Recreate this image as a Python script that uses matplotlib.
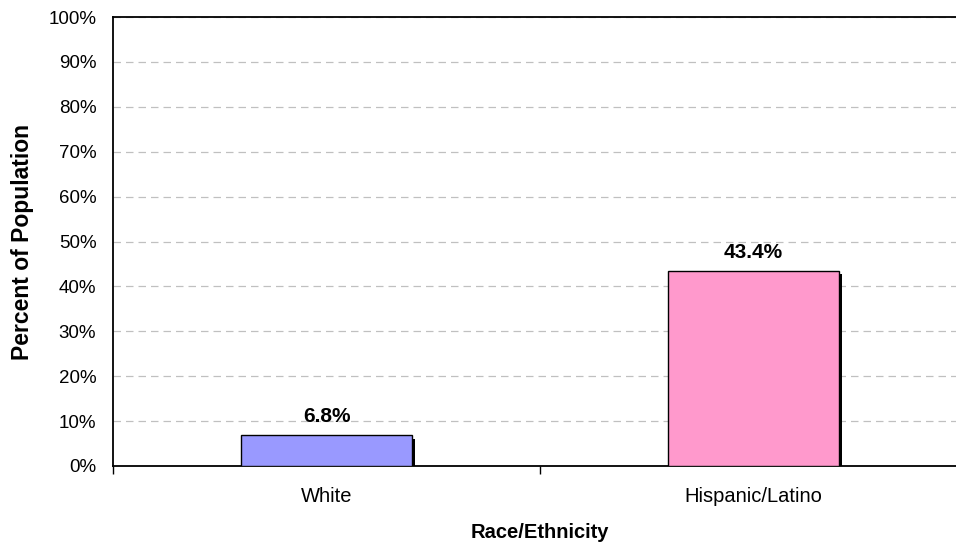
import matplotlib
matplotlib.use("Agg")
import matplotlib.pyplot as plt
import matplotlib.patheffects as pe
from matplotlib.ticker import FixedLocator, NullFormatter

plt.rcParams['font.family'] = ['Liberation Sans', 'DejaVu Sans']

categories = ["White", "Hispanic/Latino"]
values = [6.8, 43.4]
colors = ["#9999ff", "#ff99cc"]
y_ticks = list(range(0, 101, 10))

fig = plt.figure(figsize=(9.56, 5.42), dpi=100)
ax = fig.add_axes([113 / 956, 76 / 542, 854 / 956, 449 / 542])

x = list(range(len(categories)))
shadow = [pe.SimplePatchShadow(offset=(2.2, -2.2), shadow_rgbFace="black", alpha=1.0), pe.Normal()]
bars = ax.bar(x, values, width=0.4, color=colors, edgecolor="black", linewidth=1.0,
              zorder=3, path_effects=shadow)

for xi, v in zip(x, values):
    ax.text(xi, v + 2.0, f"{v:.1f}%", ha="center", va="bottom",
            fontsize=15, fontweight="bold", zorder=4)

ax.set_xlim(-0.5, len(categories) - 0.5)
ax.set_ylim(0, 100)
ax.set_yticks(y_ticks)
ax.set_yticklabels([f"{t}%" for t in y_ticks], fontsize=13.5)
ax.tick_params(axis="y", length=0, pad=12)

ax.set_xticks(x)
ax.set_xticklabels(categories, fontsize=14.5)
ax.tick_params(axis="x", length=0, pad=15)
ax.xaxis.set_minor_locator(FixedLocator([-0.5, 0.5, 1.5]))
ax.xaxis.set_minor_formatter(NullFormatter())
ax.tick_params(axis="x", which="minor", length=6, width=1, color="black")

ax.yaxis.grid(True, linestyle=(0, (6, 4)), color="#c0c0c0", linewidth=0.9, zorder=0)
ax.set_axisbelow(True)

for side in ["left", "bottom", "top"]:
    ax.spines[side].set_linewidth(1.3)
    ax.spines[side].set_color("black")
ax.spines["right"].set_visible(False)

ax.set_ylabel("Percent of Population", fontsize=16.5, fontweight="bold", labelpad=10)
ax.set_xlabel("Race/Ethnicity", fontsize=14.5, fontweight="bold", labelpad=12)

fig.savefig("out.png", dpi=100)
